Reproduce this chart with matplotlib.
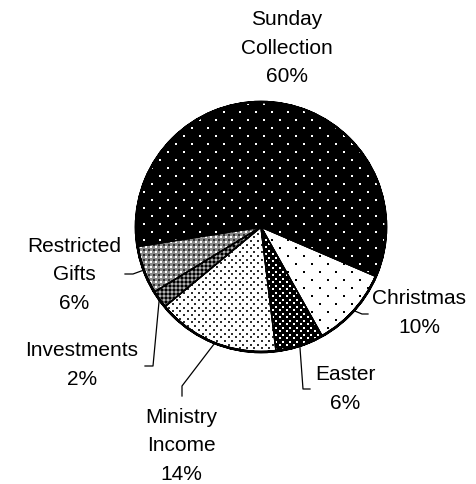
import numpy as np
import matplotlib.pyplot as plt
from matplotlib.patches import Wedge

plt.rcParams['font.family'] = ['Liberation Sans', 'DejaVu Sans']

# data (slice shares, labels as printed)
categories = ["Sunday\nCollection", "Christmas", "Easter", "Ministry\nIncome",
              "Investments", "Restricted\nGifts"]
shares = [58.9, 10.4, 6.2, 15.9, 2.3, 6.2]
pct_labels = ["60%", "10%", "6%", "14%", "2%", "6%"]

# fill texture of each slice: face colour + dot layers (colour, dx, dy, size px, shift)
faces = ["black", "white", "black", "white", "#505050", "#8a8a8a"]
dots = [
    [("white", 16, 8, 1.6, 0)],
    [("black", 16, 8, 1.8, 0)],
    [("white", 7, 3.5, 1.6, 0)],
    [("#303030", 7.4, 3.7, 1.8, 0)],
    [("#b0b0b0", 4, 4, 1.4, 0), ("black", 4, 4, 1.6, 2)],
    [("white", 5, 5, 1.6, 0), ("#303030", 5, 5, 1.8, 2.5)],
]

W, H = 476, 485
fig = plt.figure(figsize=(W / 100, H / 100), dpi=100)
ax = fig.add_axes([0, 0, 1, 1])

cx, cy, R = 261, H - 228, 125
wedges, _ = ax.pie(shares, startangle=189, counterclock=False,
                   center=(cx, cy), radius=R, colors=faces, normalize=True,
                   wedgeprops=dict(edgecolor="black", linewidth=1.0))


def texture(w, layers):
    for col, dx, dy, size, shift in layers:
        ys = np.arange(cy - R - dy, cy + R + dy, dy)
        px, py = [], []
        for k, y in enumerate(ys):
            off = (dx / 2) * (k % 2) if dy < dx else 0
            xs = np.arange(cx - R - dx, cx + R + dx, dx) + off + shift
            px.extend(xs)
            py.extend([y + shift] * len(xs))
        sc = ax.scatter(px, py, s=(size * 0.72) ** 2, c=col, marker="s",
                        linewidths=0, zorder=3)
        sc.set_clip_path(w)


for w, layers in zip(wedges, dots):
    texture(w, layers)
    ow = Wedge(w.center, w.r, w.theta1, w.theta2, facecolor="none",
               edgecolor="black", linewidth=1.1, zorder=4)
    ax.add_patch(ow)

# heavier outer rim
rim = Wedge((cx, cy), R, 0, 360, width=0.01, facecolor="none",
            edgecolor="black", linewidth=1.8, zorder=5)
ax.add_patch(rim)

# label positions (pixel coords, y from top) and leader elbows
text_pos = [(287, 48), (419, 313), (345, 389), (181, 446), (82, 365), (74, 275)]
leaders = [None,
           [(362, 315), (368, 315)],
           [(303, 390), (310, 390)],
           [(182, 387), (182, 397)],
           [(153, 367), (145, 367)],
           [(133, 275), (125, 275)]]

for i, w in enumerate(wedges):
    tx, ty = text_pos[i]
    ax.text(tx, H - ty, categories[i] + "\n" + pct_labels[i], ha="center",
            va="center", fontsize=15, linespacing=1.65, color="black")
    if leaders[i] is not None:
        mid = np.deg2rad((w.theta1 + w.theta2) / 2)
        xs = [cx + R * np.cos(mid)] + [p[0] for p in leaders[i]]
        ys = [cy + R * np.sin(mid)] + [H - p[1] for p in leaders[i]]
        ax.plot(xs, ys, color="black", linewidth=0.9)

ax.set_xlim(0, W)
ax.set_ylim(0, H)
ax.set_aspect("equal")
ax.axis("off")

fig.savefig("out.png", dpi=100, facecolor="white")
